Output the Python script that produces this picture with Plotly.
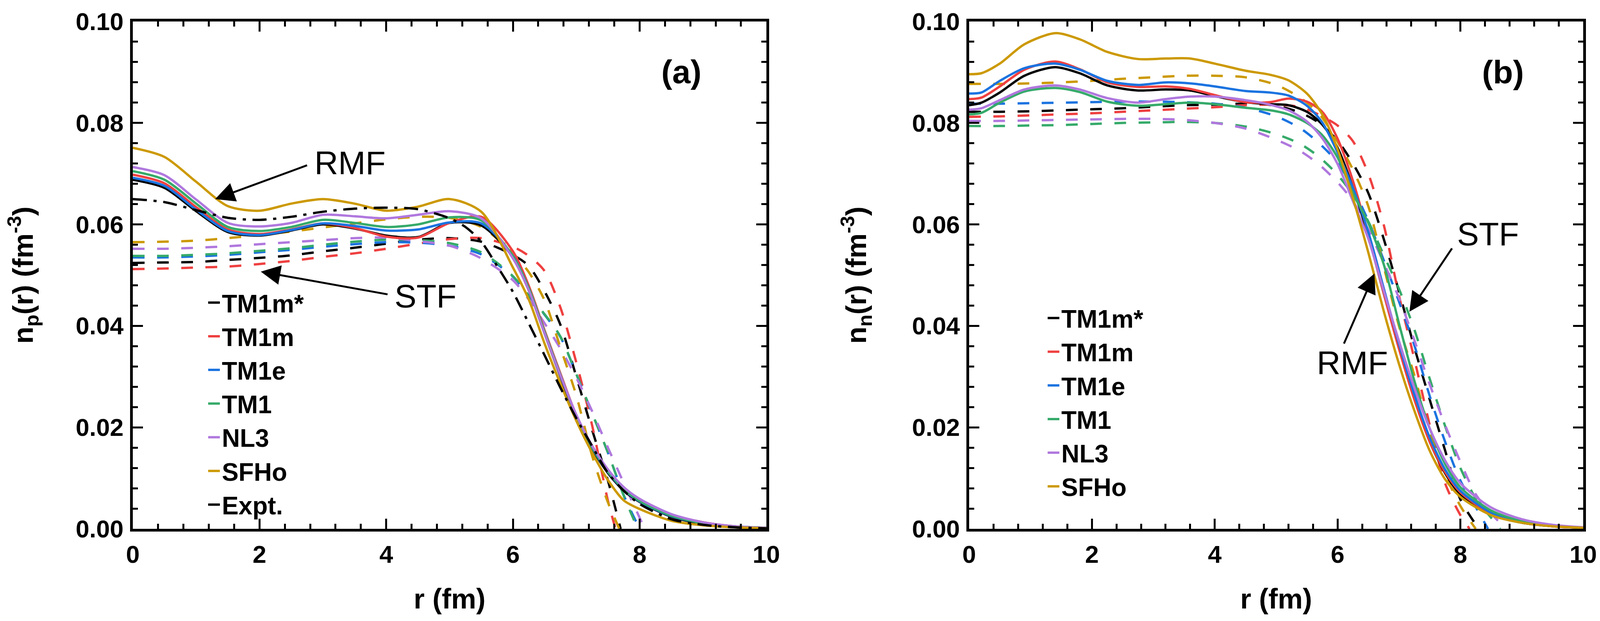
import plotly.graph_objects as go

FONT = "Liberation Sans, Arial, Helvetica, sans-serif"

MODELS = ["TM1m*", "TM1m", "TM1e", "TM1", "NL3", "SFHo"]
COLORS = ["#000000", "#EF4040", "#1B73E0", "#36AA6A", "#B078DE", "#CC9900"]

# ---------------- panel (a): proton density ----------------
R_A_RMF = [0, 0.5, 1.0, 1.5, 2.0, 2.5, 3.0, 3.5, 4.0, 4.5, 5.0, 5.5, 6.0, 6.25, 6.5,
           6.75, 7.0, 7.25, 7.5, 7.75, 8.0, 8.5, 9.0, 9.5, 10.0]
A_RMF_TM1MS = [0.0688, 0.0672, 0.0626, 0.0585, 0.0578, 0.0588, 0.0600, 0.0592, 0.0578, 0.0575,
               0.0603, 0.0598, 0.0535, 0.0470, 0.0385, 0.0300, 0.0220, 0.0158, 0.0110, 0.0075,
               0.0053, 0.0024, 0.0010, 0.0004, 0.0002]
A_RMF_TM1M = [0.0698, 0.0681, 0.0634, 0.0590, 0.0581, 0.0590, 0.0602, 0.0593, 0.0576, 0.0574,
              0.0603, 0.0615, 0.0547, 0.0479, 0.0391, 0.0306, 0.0224, 0.0162, 0.0114, 0.0077,
              0.0057, 0.0028, 0.0013, 0.0005, 0.0002]
A_RMF_TM1E = [0.0692, 0.0676, 0.0629, 0.0587, 0.0579, 0.0589, 0.0602, 0.0597, 0.0588, 0.0590,
              0.0604, 0.0602, 0.0538, 0.0474, 0.0388, 0.0303, 0.0223, 0.0160, 0.0112, 0.0077,
              0.0054, 0.0025, 0.0011, 0.0004, 0.0002]
A_RMF_TM1 = [0.0705, 0.0688, 0.0641, 0.0595, 0.0587, 0.0595, 0.0609, 0.0603, 0.0595, 0.0600,
             0.0614, 0.0608, 0.0537, 0.0474, 0.0388, 0.0303, 0.0223, 0.0161, 0.0113, 0.0078,
             0.0055, 0.0026, 0.0011, 0.0005, 0.0002]
A_RMF_NL3 = [0.0713, 0.0697, 0.0649, 0.0603, 0.0596, 0.0603, 0.0619, 0.0616, 0.0612, 0.0619,
             0.0626, 0.0612, 0.0533, 0.0470, 0.0385, 0.0302, 0.0225, 0.0164, 0.0117, 0.0082,
             0.0059, 0.0029, 0.0013, 0.0005, 0.0002]
A_RMF_SFHO = [0.0751, 0.0733, 0.0684, 0.0636, 0.0627, 0.0641, 0.0650, 0.0641, 0.0627, 0.0635,
              0.0650, 0.0625, 0.0515, 0.0452, 0.0365, 0.0286, 0.0213, 0.0150, 0.0096, 0.0056,
              0.0039, 0.0016, 0.0007, 0.0003, 0.0001]

R_A_EXPT = [0, 0.5, 1.0, 1.5, 2.0, 2.5, 3.0, 3.5, 4.0, 4.5, 5.0, 5.25, 5.5, 5.75, 6.0, 6.25,
            6.5, 6.75, 7.0, 7.25, 7.5, 7.75, 8.0, 8.5, 9.0, 9.5, 10.0]
A_EXPT = [0.0650, 0.0644, 0.0628, 0.0613, 0.0609, 0.0615, 0.0625, 0.0631, 0.0633, 0.0630, 0.0612,
          0.0595, 0.0566, 0.0518, 0.0467, 0.0405, 0.0342, 0.0278, 0.0218, 0.0163, 0.0110, 0.0075,
          0.0049, 0.0019, 0.0008, 0.0003, 0.0001]

R_A_STF_BASE = [0, 0.5, 1.0, 1.5, 2.0, 2.5, 3.0, 3.5, 4.0, 4.5, 5.0, 5.5, 6.0, 6.25, 6.5, 6.75,
                7.0, 7.25, 7.5]
R_A_STF_TM1MS = R_A_STF_BASE + [7.70]
A_STF_TM1MS = [0.0524, 0.0525, 0.0526, 0.0530, 0.0534, 0.0539, 0.0547, 0.0554, 0.0562, 0.0570,
               0.0573, 0.0566, 0.0540, 0.0518, 0.0468, 0.0402, 0.0300, 0.0195, 0.0095, 0.0]
R_A_STF_TM1M = R_A_STF_BASE + [7.62]
A_STF_TM1M = [0.0512, 0.0513, 0.0515, 0.0517, 0.0522, 0.0528, 0.0536, 0.0543, 0.0552, 0.0562,
              0.0571, 0.0573, 0.0556, 0.0538, 0.0508, 0.0436, 0.0328, 0.0204, 0.0055, 0.0]
R_A_STF_TM1E = R_A_STF_BASE + [7.75, 8.0]
A_STF_TM1E = [0.0535, 0.0535, 0.0537, 0.0540, 0.0545, 0.0550, 0.0556, 0.0561, 0.0565, 0.0564,
              0.0558, 0.0541, 0.0497, 0.0459, 0.0422, 0.0378, 0.0305, 0.0228, 0.0150, 0.0066, 0.0]
R_A_STF_TM1 = R_A_STF_BASE + [7.75, 7.97]
A_STF_TM1 = [0.0538, 0.0538, 0.0540, 0.0543, 0.0548, 0.0553, 0.0560, 0.0566, 0.0570, 0.0569,
             0.0563, 0.0545, 0.0498, 0.0460, 0.0423, 0.0379, 0.0305, 0.0228, 0.0150, 0.0065, 0.0]
R_A_STF_NL3 = R_A_STF_BASE + [7.75, 8.08]
A_STF_NL3 = [0.0552, 0.0552, 0.0554, 0.0557, 0.0561, 0.0565, 0.0569, 0.0573, 0.0574, 0.0567,
             0.0558, 0.0533, 0.0490, 0.0452, 0.0405, 0.0355, 0.0298, 0.0232, 0.0160, 0.0090, 0.0]
R_A_STF_SFHO = R_A_STF_BASE + [7.68]
A_STF_SFHO = [0.0565, 0.0566, 0.0568, 0.0573, 0.0579, 0.0586, 0.0594, 0.0602, 0.0610, 0.0615,
              0.0613, 0.0595, 0.0543, 0.0506, 0.0450, 0.0357, 0.0263, 0.0144, 0.0052, 0.0]

# ---------------- panel (b): neutron density ----------------
R_B_RMF = [0, 0.2, 0.5, 0.9, 1.4, 1.8, 2.25, 2.75, 3.2, 3.6, 4.0, 4.5, 4.9, 5.2, 5.5, 5.75,
           6.0, 6.25, 6.5, 6.75, 7.0, 7.25, 7.5, 7.75, 8.0, 8.5, 9.0, 9.5, 10.0]
B_RMF_TM1MS = [0.0835, 0.0840, 0.0860, 0.0893, 0.0910, 0.0898, 0.0874, 0.0864, 0.0866, 0.0864,
               0.0853, 0.0841, 0.0837, 0.0835, 0.0822, 0.0797, 0.0751, 0.0672, 0.0578, 0.0465,
               0.0357, 0.0258, 0.0172, 0.0110, 0.0068, 0.0028, 0.0012, 0.0005, 0.0002]
B_RMF_TM1M = [0.0847, 0.0850, 0.0872, 0.0905, 0.0921, 0.0906, 0.0880, 0.0871, 0.0872, 0.0867,
              0.0855, 0.0841, 0.0841, 0.0848, 0.0842, 0.0822, 0.0769, 0.0686, 0.0580, 0.0465,
              0.0355, 0.0255, 0.0172, 0.0112, 0.0072, 0.0030, 0.0013, 0.0005, 0.0002]
B_RMF_TM1E = [0.0858, 0.0860, 0.0883, 0.0908, 0.0917, 0.0905, 0.0883, 0.0875, 0.0880, 0.0878,
              0.0872, 0.0863, 0.0860, 0.0854, 0.0834, 0.0801, 0.0742, 0.0672, 0.0585, 0.0475,
              0.0365, 0.0265, 0.0180, 0.0117, 0.0075, 0.0032, 0.0014, 0.0006, 0.0002]
B_RMF_TM1 = [0.0817, 0.0820, 0.0840, 0.0862, 0.0869, 0.0861, 0.0842, 0.0834, 0.0837, 0.0840,
             0.0837, 0.0830, 0.0825, 0.0817, 0.0800, 0.0776, 0.0732, 0.0662, 0.0603, 0.0522,
             0.0405, 0.0292, 0.0198, 0.0128, 0.0082, 0.0036, 0.0015, 0.0006, 0.0002]
B_RMF_NL3 = [0.0826, 0.0829, 0.0845, 0.0866, 0.0874, 0.0866, 0.0849, 0.0840, 0.0847, 0.0852,
             0.0852, 0.0845, 0.0836, 0.0825, 0.0803, 0.0770, 0.0719, 0.0646, 0.0572, 0.0470,
             0.0370, 0.0278, 0.0198, 0.0135, 0.0090, 0.0042, 0.0019, 0.0008, 0.0003]
B_RMF_SFHO = [0.0896, 0.0898, 0.0917, 0.0955, 0.0977, 0.0965, 0.0940, 0.0926, 0.0927, 0.0927,
              0.0917, 0.0903, 0.0895, 0.0884, 0.0858, 0.0817, 0.0748, 0.0652, 0.0545, 0.0430,
              0.0325, 0.0233, 0.0154, 0.0098, 0.0063, 0.0027, 0.0012, 0.0005, 0.0002]

R_B_STF_BASE = [0, 0.5, 1.0, 1.5, 2.0, 2.5, 3.0, 3.5, 4.0, 4.5, 5.0, 5.4, 5.7, 6.0, 6.25, 6.5,
                6.75, 7.0, 7.25, 7.5, 7.75, 8.0]
R_B_STF_TM1MS = R_B_STF_BASE + [8.30]
B_STF_TM1MS = [0.0822, 0.0822, 0.0823, 0.0825, 0.0827, 0.0829, 0.0832, 0.0835, 0.0836, 0.0838,
               0.0834, 0.0820, 0.0800, 0.0765, 0.0720, 0.0662, 0.0572, 0.0468, 0.0358, 0.0255,
               0.0155, 0.0058, 0.0]
R_B_STF_TM1M = R_B_STF_BASE + [8.15]
B_STF_TM1M = [0.0812, 0.0813, 0.0815, 0.0817, 0.0819, 0.0822, 0.0825, 0.0828, 0.0831, 0.0835,
              0.0836, 0.0831, 0.0816, 0.0795, 0.0764, 0.0700, 0.0600, 0.0460, 0.0335, 0.0205,
              0.0090, 0.0027, 0.0]
R_B_STF_TM1E = R_B_STF_BASE + [8.25, 8.45]
B_STF_TM1E = [0.0838, 0.0838, 0.0839, 0.0840, 0.0841, 0.0842, 0.0842, 0.0841, 0.0838, 0.0830,
              0.0813, 0.0789, 0.0760, 0.0722, 0.0671, 0.0607, 0.0530, 0.0448, 0.0362, 0.0262,
              0.0172, 0.0095, 0.0043, 0.0]
R_B_STF_TM1 = R_B_STF_BASE + [8.25, 8.5, 8.65]
B_STF_TM1 = [0.0794, 0.0794, 0.0795, 0.0796, 0.0798, 0.0800, 0.0801, 0.0802, 0.0800, 0.0793,
             0.0778, 0.0758, 0.0733, 0.0698, 0.0658, 0.0606, 0.0540, 0.0473, 0.0393, 0.0296,
             0.0203, 0.0120, 0.0060, 0.0022, 0.0]
R_B_STF_NL3 = R_B_STF_BASE + [8.25, 8.5, 8.75]
B_STF_NL3 = [0.0804, 0.0804, 0.0805, 0.0806, 0.0807, 0.0808, 0.0808, 0.0806, 0.0800, 0.0789,
             0.0767, 0.0744, 0.0718, 0.0683, 0.0646, 0.0590, 0.0525, 0.0455, 0.0372, 0.0285,
             0.0205, 0.0132, 0.0068, 0.0030, 0.0]
R_B_STF_SFHO = R_B_STF_BASE + [8.25]
B_STF_SFHO = [0.0877, 0.0877, 0.0878, 0.0880, 0.0883, 0.0887, 0.0890, 0.0893, 0.0893, 0.0890,
              0.0875, 0.0849, 0.0818, 0.0763, 0.0708, 0.0636, 0.0518, 0.0400, 0.0303, 0.0192,
              0.0108, 0.0045, 0.0]

A_RMF = [A_RMF_TM1MS, A_RMF_TM1M, A_RMF_TM1E, A_RMF_TM1, A_RMF_NL3, A_RMF_SFHO]
A_STF_R = [R_A_STF_TM1MS, R_A_STF_TM1M, R_A_STF_TM1E, R_A_STF_TM1, R_A_STF_NL3, R_A_STF_SFHO]
A_STF = [A_STF_TM1MS, A_STF_TM1M, A_STF_TM1E, A_STF_TM1, A_STF_NL3, A_STF_SFHO]
B_RMF = [B_RMF_TM1MS, B_RMF_TM1M, B_RMF_TM1E, B_RMF_TM1, B_RMF_NL3, B_RMF_SFHO]
B_STF_R = [R_B_STF_TM1MS, R_B_STF_TM1M, R_B_STF_TM1E, R_B_STF_TM1, R_B_STF_NL3, R_B_STF_SFHO]
B_STF = [B_STF_TM1MS, B_STF_TM1M, B_STF_TM1E, B_STF_TM1, B_STF_NL3, B_STF_SFHO]

LW = 6
DASH = "30px,32px"
DASHDOT = "36px,17px,8px,17px"

fig = go.Figure()

# dashed STF curves
for i in range(len(MODELS)):
    fig.add_trace(go.Scatter(x=A_STF_R[i], y=A_STF[i], mode="lines", showlegend=False,
                             line=dict(color=COLORS[i], width=LW, dash=DASH, shape="spline", smoothing=0.8),
                             xaxis="x", yaxis="y"))
    fig.add_trace(go.Scatter(x=B_STF_R[i], y=B_STF[i], mode="lines", showlegend=False,
                             line=dict(color=COLORS[i], width=LW, dash=DASH, shape="spline", smoothing=0.8),
                             xaxis="x2", yaxis="y2"))

# solid RMF curves
for i in range(len(MODELS)):
    fig.add_trace(go.Scatter(x=R_A_RMF, y=A_RMF[i], mode="lines", name=MODELS[i],
                             legend="legend", legendrank=i + 1,
                             line=dict(color=COLORS[i], width=LW, shape="spline", smoothing=0.8),
                             xaxis="x", yaxis="y"))
    fig.add_trace(go.Scatter(x=R_B_RMF, y=B_RMF[i], mode="lines", name=MODELS[i],
                             legend="legend2", legendrank=i + 1,
                             line=dict(color=COLORS[i], width=LW, shape="spline", smoothing=0.8),
                             xaxis="x2", yaxis="y2"))

fig.add_trace(go.Scatter(x=R_A_EXPT, y=A_EXPT, mode="lines", name="Expt.",
                         legend="legend", legendrank=7,
                         line=dict(color="#000000", width=LW, dash=DASHDOT, shape="spline", smoothing=0.8),
                         xaxis="x", yaxis="y"))

tickfont = dict(family=FONT, size=63, color="black", weight="bold")
titlefont = dict(family=FONT, size=72, color="black", weight="bold")


def xax(domain, anchor):
    return dict(domain=domain, anchor=anchor, range=[0, 10], dtick=2, tick0=0,
                showline=True, linecolor="black", linewidth=7, mirror="allticks",
                ticks="inside", ticklen=26, tickwidth=5, tickcolor="black",
                minor=dict(dtick=0.4, ticks="inside", ticklen=13, tickwidth=5, tickcolor="black"),
                showgrid=False, zeroline=False, tickfont=tickfont, ticklabelstandoff=4,
                title=dict(text="<b>r (fm)</b>", font=titlefont, standoff=58))


def yax(anchor, title):
    return dict(anchor=anchor, range=[0, 0.1], dtick=0.02, tick0=0, tickformat=".2f",
                showline=True, linecolor="black", linewidth=7, mirror="allticks",
                ticks="inside", ticklen=26, tickwidth=5, tickcolor="black",
                minor=dict(dtick=0.004, ticks="inside", ticklen=13, tickwidth=5, tickcolor="black"),
                showgrid=False, zeroline=False, tickfont=tickfont, ticklabelstandoff=4,
                title=dict(text=title, font=titlefont, standoff=96))


legfont = dict(family=FONT, size=64, color="black", weight="bold")

annotations = []
label_font = dict(family=FONT, size=84, color="black", weight="bold")
note_font = dict(family=FONT, size=84, color="black")
annotations.append(dict(text="<b>(a)</b>", x=8.66, y=0.0901, xref="x", yref="y",
                        showarrow=False, font=label_font))
annotations.append(dict(text="<b>(b)</b>", x=8.69, y=0.0900, xref="x2", yref="y2",
                        showarrow=False, font=label_font))
annotations.append(dict(text="RMF", x=3.43, y=0.0721, xref="x", yref="y",
                        showarrow=False, font=note_font))
annotations.append(dict(text="STF", x=4.62, y=0.0459, xref="x", yref="y",
                        showarrow=False, font=note_font))
annotations.append(dict(text="STF", x=8.45, y=0.0581, xref="x2", yref="y2",
                        showarrow=False, font=note_font))
annotations.append(dict(text="RMF", x=6.24, y=0.0327, xref="x2", yref="y2",
                        showarrow=False, font=note_font))

arrow_style = dict(text="", showarrow=True, arrowhead=2, arrowsize=2.0, arrowwidth=5,
                   arrowcolor="black", standoff=0, startstandoff=0)
annotations.append(dict(x=1.30, y=0.0650, ax=2.76, ay=0.0717, xref="x", yref="y",
                        axref="x", ayref="y", **arrow_style))
annotations.append(dict(x=2.02, y=0.0507, ax=4.03, ay=0.0462, xref="x", yref="y",
                        axref="x", ayref="y", **arrow_style))
annotations.append(dict(x=7.17, y=0.0428, ax=7.87, ay=0.0554, xref="x2", yref="y2",
                        axref="x2", ayref="y2", **arrow_style))
annotations.append(dict(x=6.60, y=0.0503, ax=6.10, ay=0.0364, xref="x2", yref="y2",
                        axref="x2", ayref="y2", **arrow_style))

# keep the whole figure (including the last tick label) well inside the visible window
fig.update_layout(
    width=4100, height=1566,
    margin=dict(l=332, r=55, t=43, b=217),
    paper_bgcolor="white", plot_bgcolor="white",
    font=dict(family=FONT, color="black"),
    xaxis=xax([0, 0.4368], "y"),
    yaxis=yax("x", "<b>n<sub>p</sub>(r) (fm<sup>-3</sup>)</b>"),
    xaxis2=xax([0.5766, 1.0], "y2"),
    yaxis2=yax("x2", "<b>n<sub>n</sub>(r) (fm<sup>-3</sup>)</b>"),
    legend=dict(x=0.0506, y=0.483, xanchor="left", yanchor="top", xref="paper", yref="paper",
                bgcolor="rgba(0,0,0,0)", borderwidth=0, font=legfont, tracegroupgap=0,
                itemwidth=30),
    legend2=dict(x=0.6294, y=0.4525, xanchor="left", yanchor="top", xref="paper", yref="paper",
                 bgcolor="rgba(0,0,0,0)", borderwidth=0, font=legfont, tracegroupgap=0,
                 itemwidth=30),
    annotations=annotations,
)

fig.write_html("out.html")
